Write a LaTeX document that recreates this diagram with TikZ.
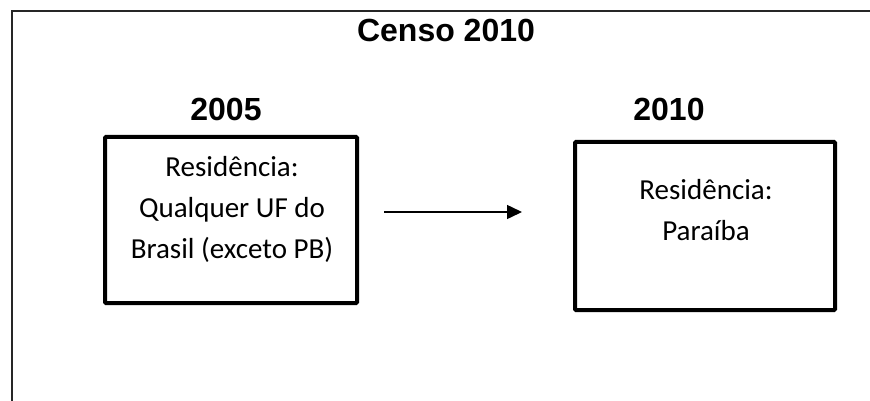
\documentclass[tikz,border=0pt]{standalone}
\usepackage{fontspec}
\setmainfont{Carlito}
\newfontfamily\arialfont{Liberation Sans}
\usetikzlibrary{arrows.meta}
\tikzset{
  frameline/.style={line width=1.5pt, draw=black!85},
  box/.style={draw=black, line width=4pt, rounded corners=1pt, inner sep=0pt},
  boxtext/.style={align=center, inner sep=0pt, font=\fontsize{29}{41}\selectfont},
  yeartext/.style={inner sep=0pt, font=\arialfont\bfseries\fontsize{32}{38}\selectfont},
  flow/.style={line width=1.5pt, -{Triangle[length=15pt,width=14pt]}}
}
\begin{document}
\begin{tikzpicture}[x=1pt,y=-1pt]
\useasboundingbox (0,0) rectangle (870,401);
% outer frame (open on right and bottom)
\coordinate (fbl) at (12,401);
\coordinate (ftl) at (12,11);
\coordinate (ftr) at (870,11);
\draw[frameline] (fbl) -- (ftl) -- (ftr);
% title
\node[yeartext, anchor=base] (title) at (446,42) {Censo 2010};
% year labels
\node[yeartext, anchor=base] (y1) at (226,121) {2005};
\node[yeartext, anchor=base] (y2) at (669,121) {2010};
% boxes
\node[box, minimum width=252pt, minimum height=166pt] (b1) at (231,220) {};
\node[box, minimum width=260pt, minimum height=168pt] (b2) at (705,226) {};
% box texts (base anchor = baseline of last line)
\node[boxtext, anchor=base] (t1) at (232,258) {Residência:\\Qualquer UF do\\Brasil (exceto PB)};
\node[boxtext, anchor=base] (t2) at (706,240) {Residência:\\Paraíba};
% arrow
\coordinate (a1) at (384,212);
\coordinate (a2) at (522,212);
\draw[flow] (a1) -- (a2);
\end{tikzpicture}
\end{document}
